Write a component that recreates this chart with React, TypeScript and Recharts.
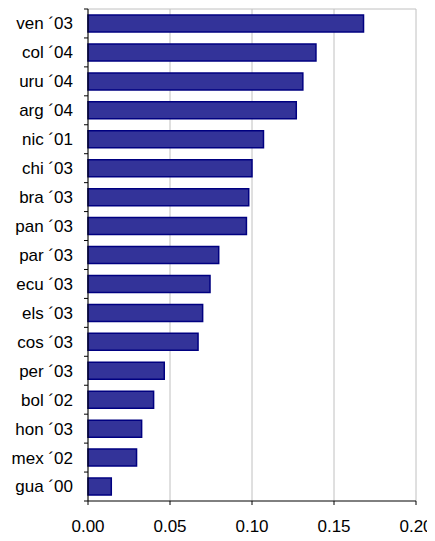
import React from 'react';
import { BarChart, Bar, XAxis, YAxis, CartesianGrid } from 'recharts';

const countries = [
  'ven ´03', 'col ´04', 'uru ´04', 'arg ´04', 'nic ´01', 'chi ´03', 'bra ´03', 'pan ´03', 'par ´03',
  'ecu ´03', 'els ´03', 'cos ´03', 'per ´03', 'bol ´02', 'hon ´03', 'mex ´02', 'gua ´00',
];
const values = [
  0.168, 0.139, 0.131, 0.127, 0.107, 0.1, 0.098, 0.0966, 0.0797,
  0.0744, 0.0699, 0.0671, 0.0465, 0.04, 0.0327, 0.0296, 0.0142,
];
const xTicks = [0, 0.05, 0.1, 0.15, 0.2];

const W = 435;
const H = 541;
const M = { top: 9, right: 19, bottom: 0, left: 0 };
const Y_W = 88;
const X_H = 40;
const PLOT_H = H - M.top - M.bottom - X_H;
const BAND = PLOT_H / countries.length;

const data = countries.map((name, i) => ({ name, value: values[i] }));

const FONT = 'Arial, "Liberation Sans", sans-serif';

// category ticks sit between the bars, like the spreadsheet original
const CatTick = (props: any) => {
  const { x, y, payload, index } = props;
  const last = index === countries.length - 1;
  return (
    <g>
      <line x1={x - 4} x2={x} y1={y - BAND / 2} y2={y - BAND / 2} stroke="#000" />
      {last && <line x1={x - 4} x2={x} y1={y + BAND / 2} y2={y + BAND / 2} stroke="#000" />}
      <text x={x - 15} y={y} dy="0.35em" textAnchor="end" fontSize={17} fontFamily={FONT} fill="#000">
        {payload.value}
      </text>
    </g>
  );
};

const NumTick = (props: any) => {
  const { x, y, payload } = props;
  return (
    <text x={x} y={y} dy="0.71em" textAnchor="middle" fontSize={17} fontFamily={FONT} fill="#000">
      {payload.value.toFixed(2)}
    </text>
  );
};

export default function App() {
  return (
    <div style={{ width: W, height: H, margin: -8, background: '#fff', overflow: 'visible' }}>
      <BarChart width={W} height={H} data={data} layout="vertical" margin={M} barSize={17} style={{ overflow: 'visible' }}>
        <CartesianGrid
          vertical
          horizontal
          stroke="#c0c0c0"
          verticalValues={xTicks}
          horizontalCoordinatesGenerator={({ offset }: any) => [offset.top]}
        />
        <XAxis
          type="number"
          domain={[0, 0.2]}
          ticks={xTicks}
          height={X_H}
          stroke="#000"
          tickSize={4}
          tickMargin={15}
          tick={<NumTick />}
          interval={0}
        />
        <YAxis
          type="category"
          dataKey="name"
          width={Y_W}
          stroke="#000"
          tickLine={false}
          tickSize={0}
          tickMargin={0}
          tick={<CatTick />}
          interval={0}
        />
        <Bar dataKey="value" fill="#333399" stroke="#000080" strokeWidth={1.5} isAnimationActive={false} />
      </BarChart>
    </div>
  );
}
